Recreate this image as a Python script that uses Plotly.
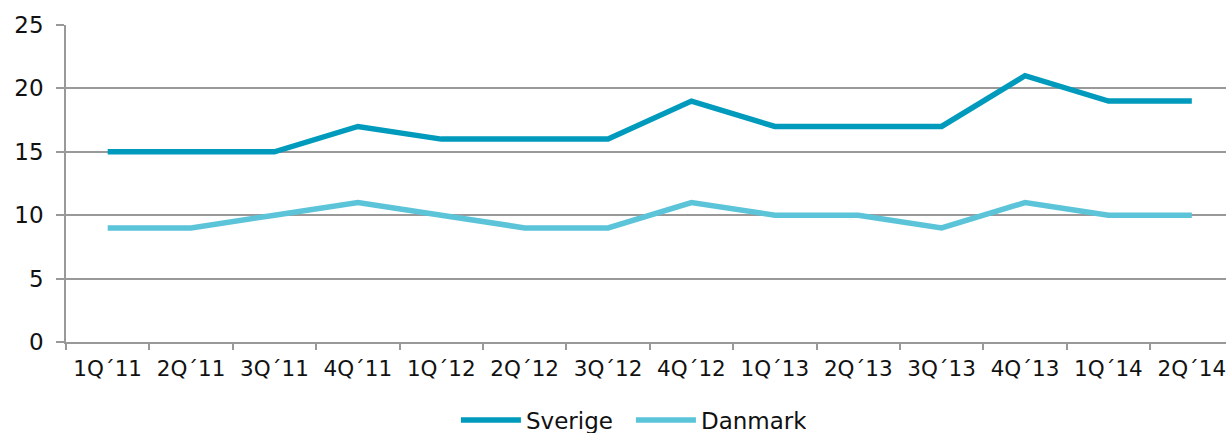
import plotly.graph_objects as go

categories = ["1Q´11", "2Q´11", "3Q´11", "4Q´11", "1Q´12", "2Q´12", "3Q´12",
              "4Q´12", "1Q´13", "2Q´13", "3Q´13", "4Q´13", "1Q´14", "2Q´14"]
sverige = [15, 15, 15, 17, 16, 16, 16, 19, 17, 17, 17, 21, 19, 19]
danmark = [9, 9, 10, 11, 10, 9, 9, 11, 10, 10, 9, 11, 10, 10]
y_ticks = [0, 5, 10, 15, 20, 25]

FONT = "DejaVu Sans"
fig = go.Figure()
fig.add_trace(go.Scatter(x=categories, y=sverige, name="Sverige", mode="lines",
                         line=dict(color="#009BBC", width=5.5)))
fig.add_trace(go.Scatter(x=categories, y=danmark, name="Danmark", mode="lines",
                         line=dict(color="#5BC4D9", width=5.5)))

fig.update_layout(
    width=1226, height=433,
    margin=dict(l=66, r=0, t=25, b=91, autoexpand=False),
    paper_bgcolor="white", plot_bgcolor="white",
    font=dict(family=FONT, size=22, color="#111"),
    showlegend=True,
    legend=dict(orientation="h", x=0.487, xanchor="center", y=-0.246, yanchor="middle",
                font=dict(size=23), itemwidth=60, entrywidth=100,
                bgcolor="rgba(0,0,0,0)"),
)
fig.update_xaxes(
    type="category", range=[-0.5, 13.41], automargin=False,
    showgrid=False, showline=True, linecolor="#999", linewidth=1.5,
    ticks="outside", tickson="boundaries", ticklen=6, tickcolor="#999", tickwidth=1.5,
    tickfont=dict(size=21.5), ticklabelstandoff=6, zeroline=False,
)
fig.update_yaxes(
    range=[0, 25], tickvals=y_ticks, automargin=False,
    showgrid=True, gridcolor="#999", gridwidth=1.5,
    showline=True, linecolor="#999", linewidth=1.5,
    ticks="outside", ticklen=8, tickcolor="#999", tickwidth=1.5,
    tickfont=dict(size=23), ticklabelstandoff=8, zeroline=False,
)
fig.write_html("out.html", config={"displayModeBar": False},
               post_script="document.body.style.margin='0';")
